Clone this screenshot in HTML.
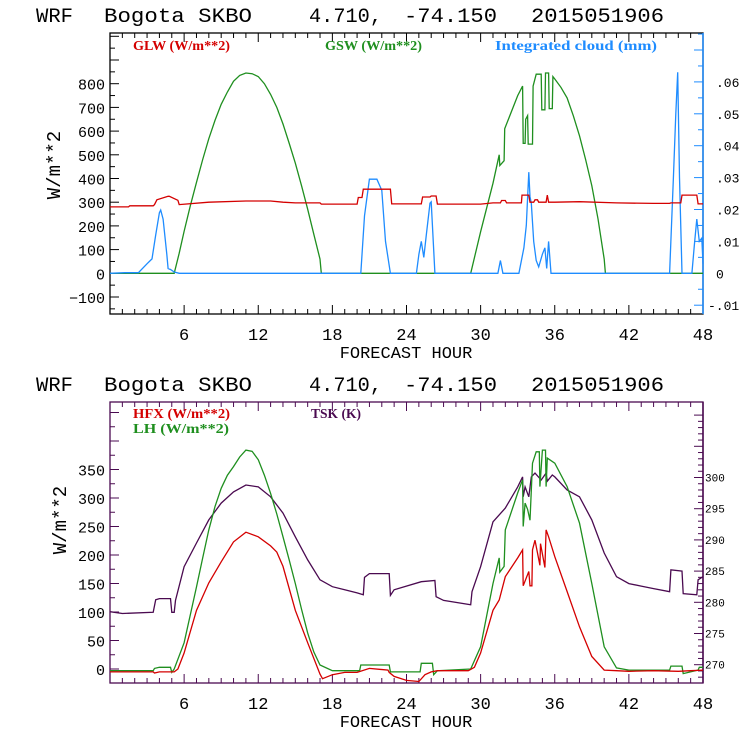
<!DOCTYPE html>
<html><head><meta charset="utf-8"><style>
html,body{margin:0;padding:0;background:#fff;}
svg{display:block;}
.t{font-family:"Liberation Mono","DejaVu Sans Mono",monospace;}
.lg{font-family:"Liberation Serif",serif;font-weight:bold;font-size:14px;}
</style></head><body>
<svg id="c" width="740" height="740" xmlns="http://www.w3.org/2000/svg"></svg>
<script>
// ---- data: top panel ----
const gswH=[0,5.2,5.6,6,6.5,7,7.5,8,8.5,9,9.5,10,10.5,11,11.5,12,12.5,13,13.5,14,14.5,15,15.5,16,16.5,17,17.1,29.2,30,31,31.5,31.55,31.9,31.95,33,33.4,33.45,33.6,33.65,33.8,33.85,34.2,34.25,34.5,34.9,34.95,35.2,35.25,35.5,35.55,35.8,35.85,36,36.5,37,37.5,38,38.5,39,39.5,40,40.1,48];
const gswV=[0,0,85,177,285,384,480,568,645,713,765,810,835,845,842,830,800,755,700,630,550,465,370,270,165,60,0,0,175,380,500,455,475,610,750,790,548,548,650,665,545,545,790,840,840,690,690,845,845,695,695,830,820,785,740,665,580,480,370,230,60,0,0];
const glwH=[0,1.5,1.6,3.5,3.6,3.8,4.7,4.8,5.5,5.6,8,11,13,14,15,17,17.1,20,20.1,20.4,20.5,22.7,22.8,25.2,25.3,25.9,26.0,26.4,26.5,30,31,31.6,31.7,32,32.1,33.3,33.35,33.9,34.0,34.1,34.3,34.4,34.6,34.7,35.3,35.4,35.5,36,38,41,44,45.3,45.4,46.2,46.3,47.5,47.6,48];
const glwV=[280,280,285,285,290,310,325,325,308,290,300,305,305,300,297,297,292,292,320,320,355,355,293,293,322,322,326,326,292,292,297,297,307,307,297,297,330,330,300,300,300,310,310,300,300,330,300,300,302,297,295,295,297,297,330,330,293,293,325];
const cldH=[0,1.2,2.3,3.0,3.4,3.7,4.0,4.1,4.3,4.6,4.7,4.9,5.2,5.6,20.3,20.6,21.0,21.6,22.0,22.3,22.7,24.8,25.0,25.2,25.4,25.6,25.9,26.0,26.3,31.4,31.6,31.8,33.1,33.5,33.7,33.9,34.0,34.1,34.3,34.5,34.7,35.0,35.2,35.35,35.5,35.7,45.3,45.6,45.8,45.95,46.1,46.3,47.1,47.3,47.5,47.7,47.9,48];
const cldV=[0,0.0002,0.0002,0.003,0.0045,0.012,0.019,0.0198,0.017,0.006,0.0015,0.0012,0.0004,0,0,0.018,0.0295,0.0295,0.026,0.01,0,0,0.006,0.01,0.005,0.012,0.022,0.0224,0,0,0.004,0,0,0.008,0.015,0.0317,0.024,0.022,0.01,0.004,0.002,0.006,0.008,0.0015,0.01,0,0,0.03,0.05,0.063,0.03,0,0,0.009,0.017,0.01,0.011,0.003];
// ---- data: bottom panel ----
const hfxH=[0,3.5,3.6,4,5.2,5.5,6,7,8,9,10,11,12,13,13.5,14,15,16,17,17.2,18,19,20,21,22.5,22.6,23,24,25,25.5,26,26.5,29,29.5,30,31,31.5,32,33,33.4,33.45,33.9,34.0,34.15,34.2,34.4,34.8,34.85,35.2,35.3,35.5,36,37,38,39,40,41,42,44,46,47,48];
const hfxV=[-5,-5,-7,-5,-5,0,28,103,151,188,223,240,232,216,205,180,103,46,-9,-17,-10,-6,-6,1,-2,-6,-13,-20,-22,-10,-5,-3,-3,3,28,103,121,162,195,209,146,171,146,146,209,226,182,220,178,244,232,197,136,74,22,-2,-3,-4,-3,-4,-3,-2];
const lhH=[0,3.5,3.6,4,4.9,5.0,5.2,6,6.5,7,7.5,8,8.5,9,9.5,10,10.5,11,11.5,12,12.5,13,13.5,14,14.5,15,15.5,16,16.5,17,18,20.2,20.3,22.6,22.7,25.1,25.2,26.1,26.2,26.5,29.2,30,31,31.5,31.55,31.9,32.0,33,33.4,33.45,33.6,33.8,34.0,34.2,34.5,34.75,34.8,35.0,35.25,35.3,35.4,36,37,38,39,40,41,42,45.3,45.4,46.3,46.4,47.6,47.7,48];
const lhV=[-3,-3,1,3,3,-6,0,46,95,144,195,244,285,317,340,355,372,384,382,367,340,308,272,232,192,150,105,63,30,7,-3,-3,7,7,-5,-5,10,10,-10,-3,0,39,150,195,170,180,244,309,332,250,291,280,261,361,381,381,320,384,384,320,370,361,320,256,150,39,2,-2,-2,5,5,-8,-2,3,3];
const tskH=[0,1,3.5,3.7,4,4.9,5.0,5.2,5.3,6,7,8,9,10,11,12,13,14,15,16,17,18,19,20,20.5,20.6,21,22.6,22.7,23,25.2,26.3,26.4,27,29.2,29.3,30,31,32,33,33.4,33.45,33.6,33.9,34.1,34.4,34.9,35.3,35.4,35.8,36,37,38,39,40,41,42,43,44,45.3,45.4,46.3,46.4,47.5,47.6,48];
const tskV=[278.5,278.2,278.4,280.4,280.6,280.6,278.4,278.4,280.3,285.7,289.5,293.2,295.9,297.7,298.8,298.5,296.9,294.3,290.5,286.8,283.6,282.5,282.0,281.5,281.2,284.0,284.6,284.6,281.1,282.0,283.3,283.5,280.9,280.3,279.6,281.7,285.7,292.9,295.1,298.5,300.1,296.9,298.5,296.9,300.1,300.7,299.6,300.7,299.4,300.4,300.1,298.0,296.9,293.2,287.9,284.1,283.0,282.6,282.2,281.7,285.2,285.0,281.4,281.2,283.6,284.1];
const xTicks=[6,12,18,24,30,36,42,48];
const topLeftTicks=[-100,0,100,200,300,400,500,600,700,800];
const topRightTicks=[-0.01,0,0.01,0.02,0.03,0.04,0.05,0.06];
const topRightLabels=["-.01","0",".01",".02",".03",".04",".05",".06"];
const botLeftTicks=[0,50,100,150,200,250,300,350];
const botRightTicks=[270,275,280,285,290,295,300];

const NS="http://www.w3.org/2000/svg";
const svg=document.getElementById('c');
function el(tag,attrs,parent){const e=document.createElementNS(NS,tag);for(const k in attrs)e.setAttribute(k,attrs[k]);(parent||svg).appendChild(e);return e;}
const X0=110,X1=703;
const xs=h=>X0+(X1-X0)*h/48;
const yTopL=v=>273.3-v*0.237;
const yTopR=v=>273.3-v*3190;
const yBotL=v=>669-v*0.57;
const yBotR=v=>664.7-(v-270)*6.24;

function title(y,name){
  const g=el('g',{class:'t','font-size':'20',fill:'#000'});
  
  
  const parts=[[36,"WRF",37],[104,"Bogota SKBO",148],[309,"4.710,",73],[404,"-74.150",93],[531,"2015051906",133]];
  parts.forEach(p=>{const t=el('text',{x:p[0],y:y,textLength:p[2],lengthAdjust:'spacingAndGlyphs'},g);t.textContent=p[1];});
}
function line(hs,vs,yf,color,name,g){
  const pts=hs.map((h,i)=>xs(h).toFixed(1)+','+yf(vs[i]).toFixed(1)).join(' ');
  const p=el('polyline',{points:pts,fill:'none',stroke:color,'stroke-width':'1.3'},g);
  
  
}
function text(x,y,s,attrs,name){const t=el('text',Object.assign({x:x,y:y},attrs));t.textContent=s;return t;}

function panel(top,bot,frameColor,rightColor){
  el('rect',{x:X0,y:top,width:X1-X0,height:bot-top,fill:'none',stroke:frameColor,'stroke-width':'1.3'});
  el('line',{x1:X1,y1:top,x2:X1,y2:bot,stroke:rightColor,'stroke-width':'1.5'});
  for(let h=1;h<48;h++){
    const L=(h%6===0)?9:5;
    el('line',{x1:xs(h),y1:bot,x2:xs(h),y2:bot-L,stroke:frameColor,'stroke-width':'1'});
    el('line',{x1:xs(h),y1:top,x2:xs(h),y2:top+L,stroke:frameColor,'stroke-width':'1'});
  }
  xTicks.forEach(h=>text(xs(h),bot+26,String(h),{class:'t','font-size':'17','text-anchor':'middle',fill:'#000'},'x-tick-label'));
  text(406,bot+44,'FORECAST HOUR',{class:'t','font-size':'17','text-anchor':'middle',fill:'#000'},'x-axis-title');
}

// ---------- TOP ----------
title(22,'top-title');
panel(33,314,'#000','#1e8cff');
for(let v=-150;v<=1000;v+=50){const y=yTopL(v);if(y<33||y>314)continue;const L=(v%100===0)?9:5;el('line',{x1:X0,y1:y,x2:X0+L,y2:y,stroke:'#000'});}
topLeftTicks.forEach(v=>text(105,yTopL(v)+6,String(v).replace('-','\u2212'),{class:'t','font-size':'15','text-anchor':'end',fill:'#000'},'y-tick-label'));
for(let v=-0.015;v<=0.075;v+=0.005){const y=yTopR(v);if(y<34||y>313)continue;const L=(Math.round(v*1000)%10===0)?9:5;el('line',{x1:X1,y1:y,x2:X1-L,y2:y,stroke:'#1e8cff'});}
topRightTicks.forEach((v,i)=>text(v<0?708:716,yTopR(v)+5,topRightLabels[i],{class:'t','font-size':'13',fill:'#000'},'right-tick-label'));
text(60,165,'W/m**2',{class:'t','font-size':'19','text-anchor':'middle',fill:'#000',transform:'rotate(-90 60 165)'},'y-axis-title');
text(133,50,'GLW (W/m**2)',{class:'lg',fill:'#d40000',textLength:97,lengthAdjust:'spacingAndGlyphs'},'legend-glw');
text(325,50,'GSW (W/m**2)',{class:'lg',fill:'#1f8f1f',textLength:97,lengthAdjust:'spacingAndGlyphs'},'legend-gsw');
text(495,50,'Integrated cloud (mm)',{class:'lg',fill:'#1e8cff',textLength:162,lengthAdjust:'spacingAndGlyphs'},'legend-cloud');
const gt=el('g',{});
line(gswH,gswV,yTopL,'#1f8f1f','gsw-line',gt);
line(cldH,cldV,yTopR,'#1e8cff','cloud-line',gt);
line(glwH,glwV,yTopL,'#d40000','glw-line',gt);

// ---------- BOTTOM ----------
title(391,'bottom-title');
panel(402,683,'#4a0a50','#4a0a50');
for(let v=-25;v<=475;v+=25){const y=yBotL(v);if(y<403||y>682)continue;const L=(v%50===0)?9:5;el('line',{x1:X0,y1:y,x2:X0+L,y2:y,stroke:'#4a0a50'});}
botLeftTicks.forEach(v=>text(105,yBotL(v)+6,String(v),{class:'t','font-size':'15','text-anchor':'end',fill:'#000'},'y-tick-label'));
for(let v=267;v<=310;v++){const y=yBotR(v);if(y<403||y>682)continue;const L=(v%5===0)?9:5;el('line',{x1:X1,y1:y,x2:X1-L,y2:y,stroke:'#4a0a50'});}
botRightTicks.forEach(v=>text(705,yBotR(v)+4,String(v),{class:'t','font-size':'11',fill:'#000'},'right-tick-label'));
text(66,520,'W/m**2',{class:'t','font-size':'19','text-anchor':'middle',fill:'#000',transform:'rotate(-90 66 520)'},'y-axis-title');
text(133,418,'HFX (W/m**2)',{class:'lg',fill:'#d40000',textLength:97,lengthAdjust:'spacingAndGlyphs'},'legend-hfx');
text(133,433,'LH  (W/m**2)',{class:'lg',fill:'#1f8f1f','xml:space':'preserve',textLength:96,lengthAdjust:'spacingAndGlyphs'},'legend-lh');
text(311,418,'TSK (K)',{class:'lg',fill:'#4a0a50',textLength:50,lengthAdjust:'spacingAndGlyphs'},'legend-tsk');
const gb=el('g',{});
line(tskH,tskV,yBotR,'#4a0a50','tsk-line',gb);
line(lhH,lhV,yBotL,'#1f8f1f','lh-line',gb);
line(hfxH,hfxV,yBotL,'#d40000','hfx-line',gb);
</script>
</body></html>
